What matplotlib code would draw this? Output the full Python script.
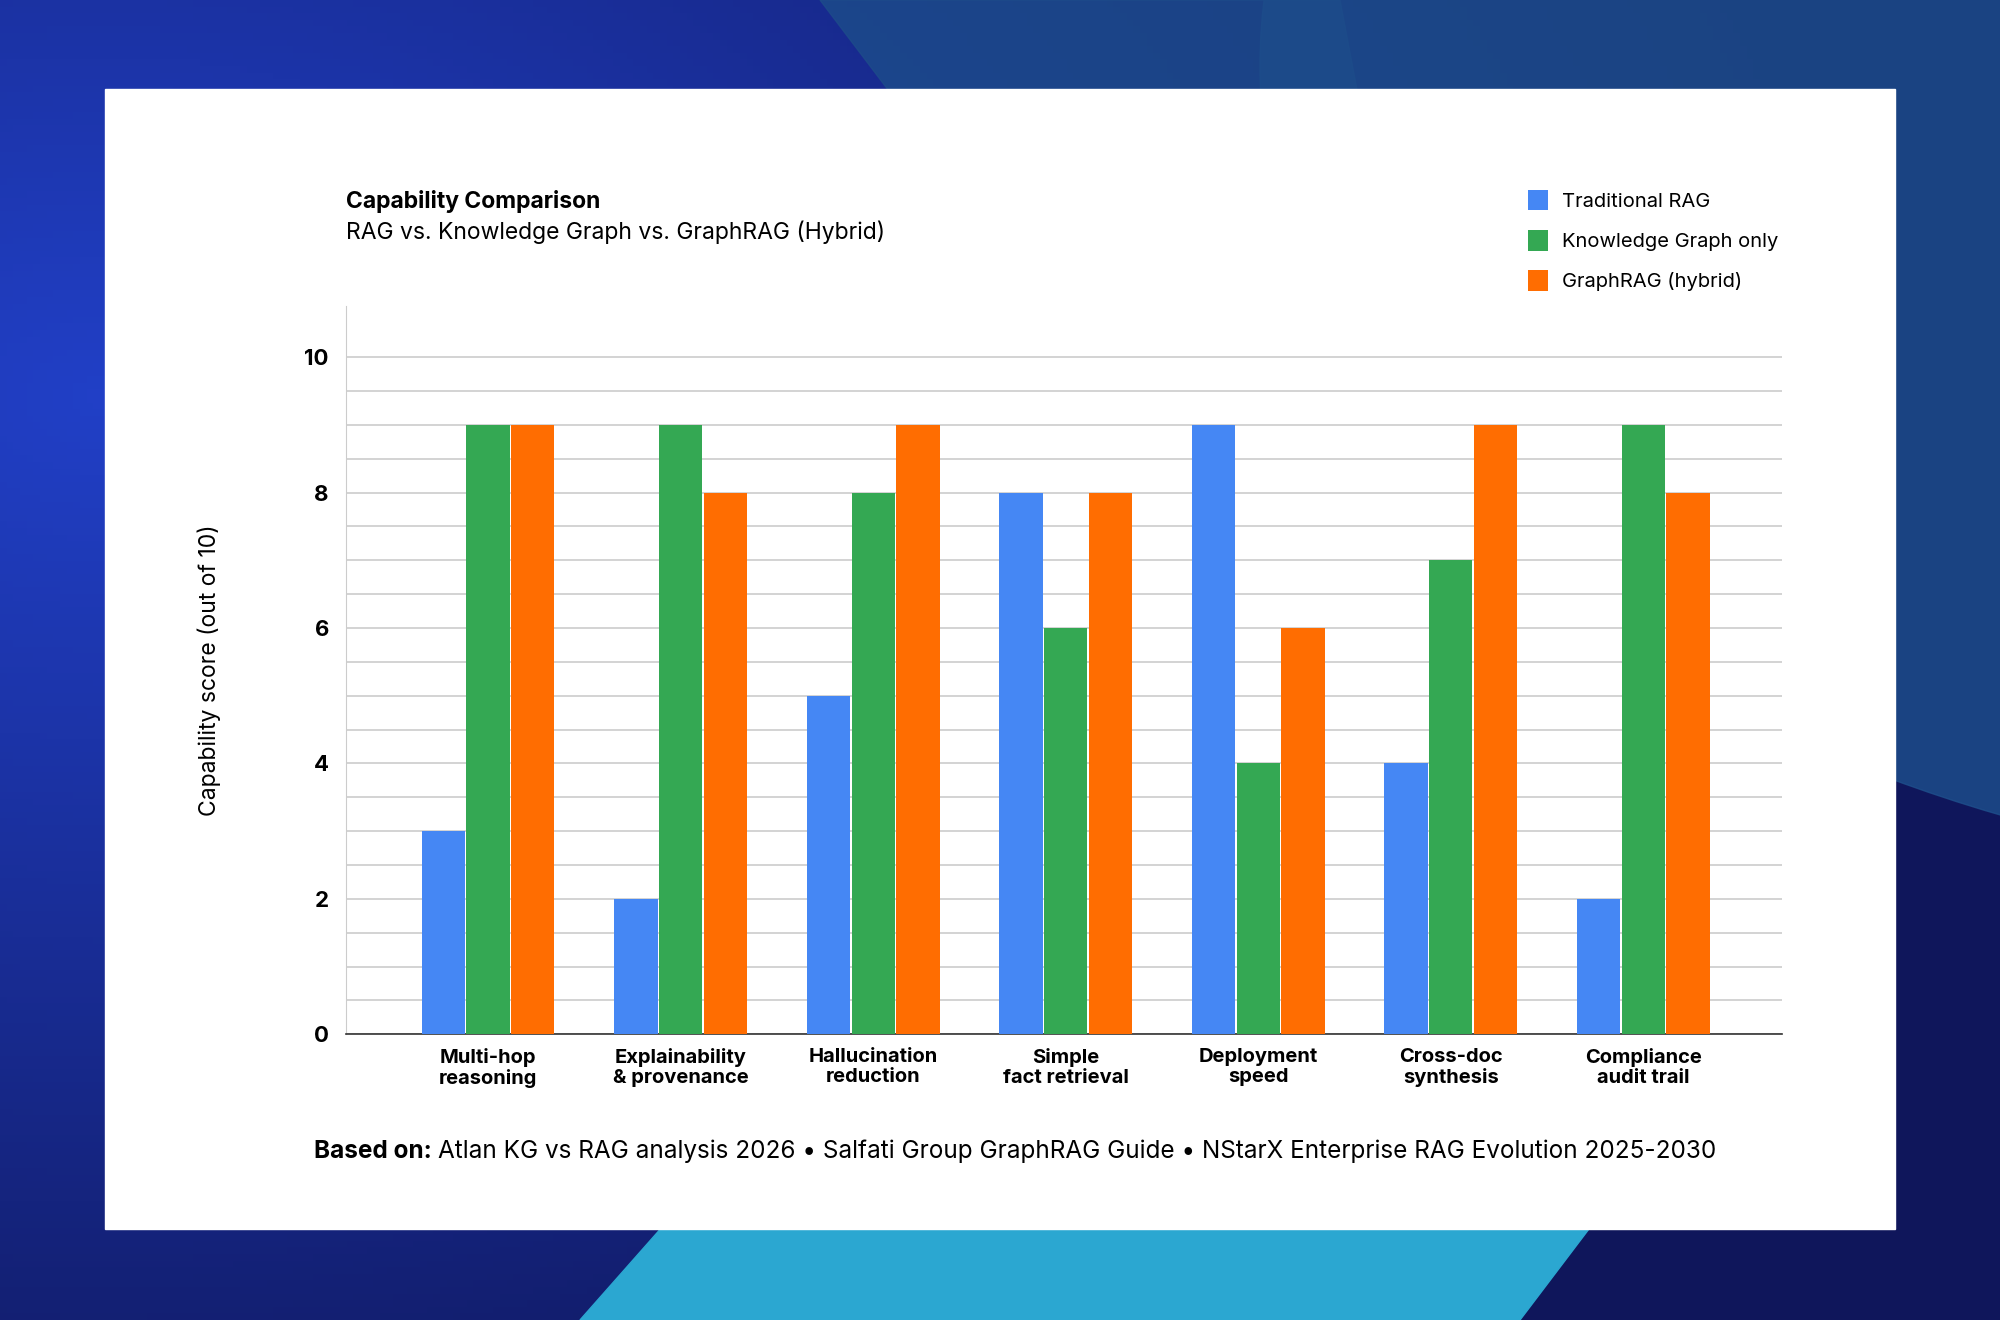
import numpy as np
import matplotlib.pyplot as plt
from matplotlib.patches import Rectangle, Polygon, Circle

plt.rcParams['font.family'] = ['Inter', 'DejaVu Sans']

categories = ["Multi-hop\nreasoning", "Explainability\n& provenance", "Hallucination\nreduction",
              "Simple\nfact retrieval", "Deployment\nspeed", "Cross-doc\nsynthesis", "Compliance\naudit trail"]
traditional = [3, 2, 5, 8, 9, 4, 2]
kg_only = [9, 9, 8, 6, 4, 7, 9]
graphrag = [9, 8, 9, 8, 6, 9, 8]
series_names = ["Traditional RAG", "Knowledge Graph only", "GraphRAG (hybrid)"]
colors = ["#4587f4", "#34a853", "#ff6d01"]

fig = plt.figure(figsize=(20, 13.2), dpi=100)

# background gradient
bg = fig.add_axes([0, 0, 1, 1])
bg.set_xlim(0, 1); bg.set_ylim(0, 1); bg.axis('off')
yy, xx = np.mgrid[0:1:200j, 0:1:300j]
r = np.sqrt((xx - 0.05) ** 2 + (yy - 0.7) ** 2)
base = np.array([0.13, 0.25, 0.78])
dark = np.array([0.06, 0.09, 0.36])
t = np.clip(r / 0.9, 0, 1)[..., None]
img = base * (1 - t) + dark * t
bg.imshow(img, extent=[0, 1, 0, 1], origin='lower', aspect='auto', zorder=0)
bg.add_patch(Circle((1.25, 0.95), 0.62, transform=bg.transAxes, color='#1e4f8c', alpha=0.8, zorder=1))
bg.add_patch(Polygon([[0.29, 0], [0.36, 0.12], [0.82, 0.12], [0.76, 0]], color='#2ba7d1', zorder=1))
bg.add_patch(Polygon([[0.41, 1], [0.45, 0.92], [0.68, 0.92], [0.67, 1]], color='#1d4c8a', alpha=0.8, zorder=1))

# white card
bg.add_patch(Rectangle((0.0523, 0.0686), 0.8954, 0.8638, color='white', zorder=2))

ax = fig.add_axes([0.1728, 0.2164, 0.7182, 0.5516])
x = np.arange(len(categories))
w = 0.225
for i, (vals, name) in enumerate(zip([traditional, kg_only, graphrag], series_names)):
    ax.bar(x + (i - 1) * 0.232, vals, w, color=colors[i], label=name, zorder=3)

ax.set_xlim(-0.74, len(categories) - 1 + 0.72)
ax.set_ylim(0, 10.75)
ax.set_yticks(np.arange(0, 10.5, 0.5), minor=True)
ax.set_yticks([0, 2, 4, 6, 8, 10])
ax.grid(axis='y', which='both', color='#cccccc', linewidth=1.2, zorder=0)
ax.tick_params(axis='y', which='both', length=0, labelsize=16, pad=12)
for lab in ax.get_yticklabels():
    lab.set_fontweight('bold')
ax.set_xticks(x)
ax.set_xticklabels(categories, fontsize=14.5, fontweight='bold', linespacing=1.15)
ax.tick_params(axis='x', length=0, pad=10)
for s in ['top', 'right']:
    ax.spines[s].set_visible(False)
ax.spines['left'].set_color('#cccccc')
ax.spines['bottom'].set_color('#333333')
ax.spines['bottom'].set_linewidth(1.2)
ax.set_ylabel("Capability score (out of 10)", fontsize=16.5, labelpad=60)

fig.text(0.1728, 0.847, "Capability Comparison", fontsize=16.5, fontweight='bold', va='center')
fig.text(0.1728, 0.824, "RAG vs. Knowledge Graph vs. GraphRAG (Hybrid)", fontsize=16.5, va='center')

ax.legend(loc='upper left', bbox_to_anchor=(0.8105, 1.185), frameon=False, fontsize=14.5,
          handlelength=1.0, handleheight=1.2, labelspacing=0.95, handletextpad=0.7)

lbl = fig.text(0.157, 0.128, "Based on:", fontsize=17.5, fontweight='bold', va='center')
fig.canvas.draw()
bb = lbl.get_window_extent().transformed(fig.transFigure.inverted())
fig.text(bb.x1 + 0.003, 0.128,
         "Atlan KG vs RAG analysis 2026 • Salfati Group GraphRAG Guide • NStarX Enterprise RAG Evolution 2025-2030",
         fontsize=17.5, va='center')

fig.savefig("out.png", dpi=100)
